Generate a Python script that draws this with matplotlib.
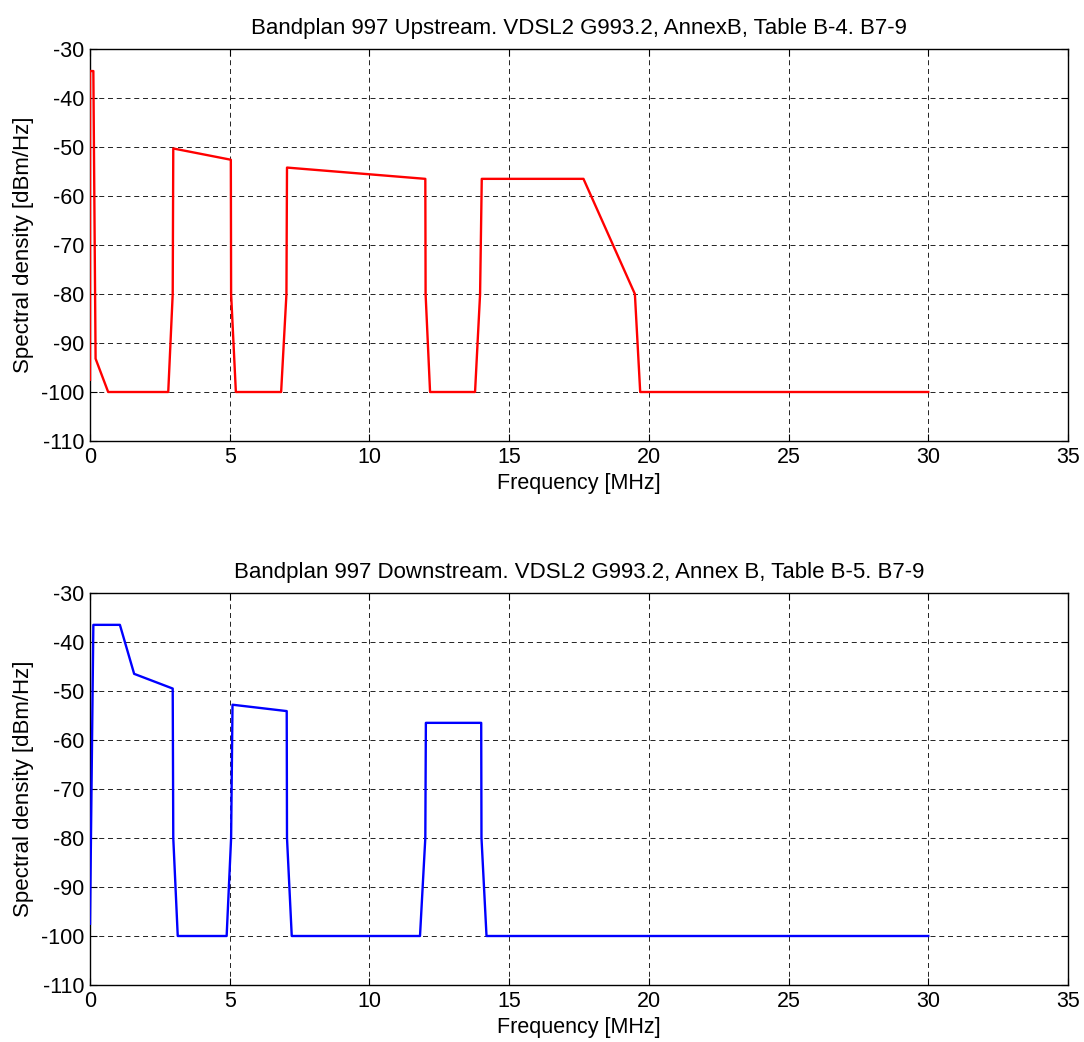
import matplotlib
matplotlib.use("Agg")
import matplotlib.pyplot as plt

plt.rcParams['font.family'] = ['Liberation Sans', 'DejaVu Sans']
plt.rcParams['axes.unicode_minus'] = False

# Upstream PSD mask (MHz, dBm/Hz)
us_freq = [0.0, 0.0, 0.12, 0.2, 0.65, 2.8, 2.96, 2.98, 5.04, 5.05, 5.22, 6.84, 7.03, 7.05,
           12.0, 12.01, 12.17, 13.78, 13.96, 14.02, 17.66, 19.5, 19.69, 30.0]
us_psd = [-97.5, -34.5, -34.5, -93.2, -100, -100, -80, -50.3, -52.6, -80, -100, -100, -80, -54.2,
          -56.5, -80, -100, -100, -80, -56.5, -56.5, -80, -100, -100]

# Downstream PSD mask (MHz, dBm/Hz)
ds_freq = [0.0, 0.12, 1.07, 1.58, 2.96, 2.98, 3.14, 4.89, 5.05, 5.1, 7.04, 7.05, 7.22,
           11.81, 12.0, 12.02, 14.0, 14.01, 14.19, 30.0]
ds_psd = [-97.5, -36.5, -36.5, -46.5, -49.5, -80, -100, -100, -80, -52.8, -54.1, -80, -100,
          -100, -80, -56.5, -56.5, -80, -100, -100]

titles = ["Bandplan 997 Upstream. VDSL2 G993.2, AnnexB, Table B-4. B7-9",
          "Bandplan 997 Downstream. VDSL2 G993.2, Annex B, Table B-5. B7-9"]
xticks = [0, 5, 10, 15, 20, 25, 30, 35]
yticks = [-110, -100, -90, -80, -70, -60, -50, -40, -30]

W, H = 1084, 1042
fig = plt.figure(figsize=(W / 100, H / 100), dpi=100)

def make_ax(top_px, bottom_px):
    left, right = 90, 1068
    return fig.add_axes([left / W, 1 - bottom_px / H, (right - left) / W, (bottom_px - top_px) / H])

ax1 = make_ax(49, 441)
ax2 = make_ax(593, 985)

for ax, fx, py, col, ttl in [(ax1, us_freq, us_psd, 'red', titles[0]),
                             (ax2, ds_freq, ds_psd, 'blue', titles[1])]:
    ax.plot(fx, py, color=col, lw=1.7, zorder=3)
    ax.set_xlim(0, 35)
    ax.set_ylim(-110, -30)
    ax.set_xticks(xticks)
    ax.set_yticks(yticks)
    ax.grid(True, color='black', linestyle=(0, (6, 4.5)), lw=0.6)
    ax.tick_params(direction='in', top=True, right=True, length=5, labelsize=15.5, pad=4)
    for s in ax.spines.values():
        s.set_linewidth(1.0)
    ax.set_title(ttl, fontsize=16, pad=11)
    ax.set_xlabel('Frequency [MHz]', fontsize=15.5, labelpad=4)
    ax.set_ylabel('Spectral density [dBm/Hz]', fontsize=16, labelpad=5)

fig.savefig('out.png', dpi=100)
